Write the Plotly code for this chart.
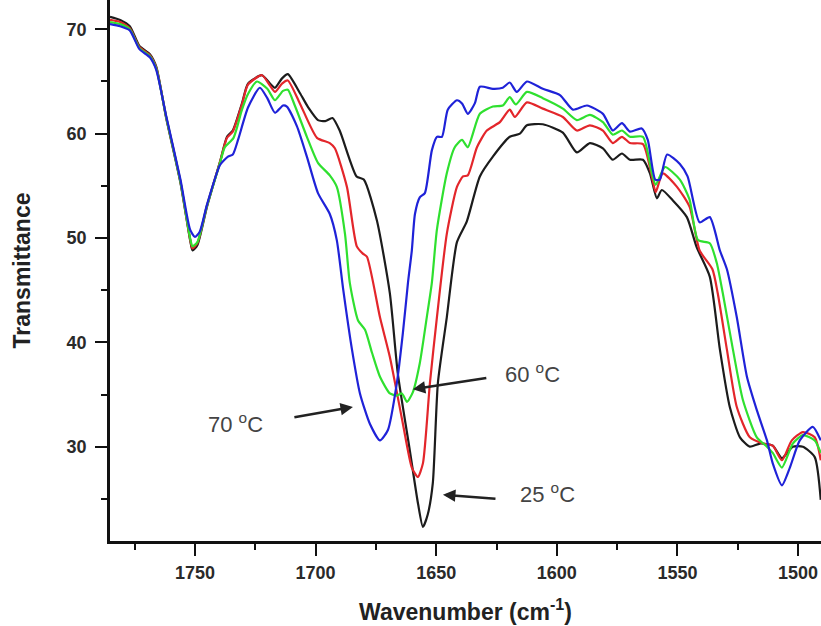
import plotly.graph_objects as go

# ---- data (wavenumber in cm^-1, transmittance) ----
x_25 = [1785.2, 1781, 1777, 1773, 1768.6, 1766, 1762, 1756, 1752, 1751, 1749, 1745, 1739.6, 1736.7, 1734.3,
        1730.5, 1728, 1722.2, 1718.9, 1716.8, 1713.9, 1711.5, 1706.5, 1703, 1699, 1696, 1693, 1690, 1683,
        1680, 1674.6, 1669.2, 1665.9, 1660.9, 1657.5, 1655.5, 1653.5, 1651.4, 1649.3, 1645.6, 1641.4, 1637.3,
        1631.9, 1626.5, 1619.5, 1615.3, 1612.4, 1605.8, 1597.5, 1591.7, 1586.3, 1580.9, 1576.8, 1573.0,
        1569.7, 1564.3, 1561.4, 1558.5, 1556.5, 1551.9, 1546.1, 1542.0, 1536.6, 1532.4, 1528.3, 1524.1,
        1520.0, 1515.8, 1510.5, 1506.7, 1502.2, 1498.0, 1493.1, 1490.6]
y_25 = [71.2, 70.9, 70.3, 68.4, 67.6, 66.4, 61.6, 55.3, 49.8, 48.8, 49.3, 53.0, 57.3, 59.7, 60.3,
        62.9, 64.8, 65.6, 64.8, 64.4, 65.3, 65.7, 63.9, 62.5, 61.3, 61.2, 61.5, 60.3, 55.9,
        55.6, 51.7, 44.7, 37.0, 29.6, 24.5, 22.3, 23.5, 26.5, 36.1, 42.4, 49.6, 51.6,
        55.9, 57.8, 59.7, 60.0, 60.8, 60.9, 60.1, 58.2, 59.1, 58.6, 57.5, 58.1,
        57.5, 57.5, 56.2, 53.8, 54.6, 53.6, 52.0, 49.1, 46.3, 39.3, 33.8, 30.9,
        30.0, 30.3, 30.1, 28.9, 30.0, 30.0, 29.0, 24.9]

x_mid = [1785.2, 1781, 1777, 1773, 1768.6, 1766, 1762, 1756, 1752, 1751, 1749, 1745, 1739.6, 1736.7, 1734.3,
         1730.5, 1728, 1722.2, 1718.9, 1716.8, 1713.9, 1711.5, 1706.5, 1699.4, 1694.1, 1692.0, 1687.0,
         1682.9, 1680.4, 1678.7, 1673.3, 1669.2, 1663.8, 1660.1, 1657.6, 1655.5, 1652.6, 1649.7, 1645.6,
         1641.4, 1638.9, 1636.9, 1633.1, 1629.0, 1623.6, 1619.5, 1617.4, 1612.4, 1605.8, 1597.5, 1591.7,
         1586.3, 1580.9, 1576.8, 1573.0, 1569.7, 1564.3, 1560.6, 1559.0, 1556.1, 1550.2, 1545.0, 1540.8,
         1535.5, 1533.3, 1529.5, 1525.4, 1520.0, 1514.5, 1510.5, 1506.7, 1502.6, 1498.0, 1493.1, 1490.6]
y_mid = [70.9, 70.7, 70.1, 68.3, 67.5, 66.3, 61.7, 55.4, 49.9, 49.0, 49.5, 53.1, 57.3, 59.6, 60.2,
         62.8, 64.7, 65.6, 64.6, 64.0, 64.8, 65.1, 62.9, 59.6, 59.1, 58.6, 54.9,
         49.2, 48.5, 48.2, 42.4, 38.6, 32.2, 28.0, 27.1, 28.4, 36.1, 42.4, 50.4,
         54.9, 55.9, 56.0, 58.7, 60.3, 61.1, 62.3, 61.6, 63.0, 62.4, 61.6, 60.3,
         60.8, 60.3, 59.1, 59.7, 59.1, 59.0, 55.9, 54.4, 56.2, 54.9, 53.0, 48.8,
         47.0, 44.7, 39.3, 33.8, 30.9, 30.3, 30.1, 28.7, 30.6, 31.4, 30.9, 28.7]

x_60 = [1785.2, 1781, 1777, 1773, 1768.6, 1766, 1762, 1756, 1752, 1751, 1749, 1745, 1739.6, 1737.6, 1734,
        1730.5, 1728, 1724.3, 1720, 1716.8, 1713.5, 1711.5, 1708.6, 1703.6, 1699.0, 1694.1, 1691.2, 1687.8,
        1685.8, 1682.4, 1679.5, 1676.6, 1673.3, 1669.2, 1666.3, 1664.2, 1662.1, 1659.7, 1656.8, 1653.9,
        1651.8, 1649.7, 1645.6, 1642.3, 1639.3, 1636.9, 1631.9, 1626.5, 1622.4, 1619.5, 1617.0, 1612.4,
        1605.8, 1597.5, 1591.7, 1586.3, 1580.9, 1576.8, 1573.0, 1569.7, 1564.3, 1560.6, 1559.0, 1555.2,
        1549.0, 1545.0, 1541.5, 1536.6, 1533.7, 1531.2, 1527.0, 1522.9, 1517.1, 1512.9, 1510.5, 1506.7,
        1502.2, 1498.0, 1493.1, 1490.6]
y_60 = [70.7, 70.5, 70.0, 68.2, 67.4, 66.2, 61.7, 55.4, 50.0, 49.2, 49.6, 53.1, 57.2, 58.7, 59.6,
        62.3, 63.8, 65.0, 64.3, 63.2, 64.1, 64.2, 62.7, 59.7, 57.2, 56.0, 54.9, 50.4,
        45.7, 42.1, 41.2, 39.0, 36.7, 35.1, 34.9, 35.1, 34.3, 35.2, 38.0, 42.4,
        45.7, 50.8, 56.2, 58.7, 59.4, 58.7, 61.9, 62.6, 62.7, 63.5, 62.8, 64.0,
        63.4, 62.4, 61.3, 61.8, 61.1, 59.9, 60.3, 59.7, 59.7, 56.2, 55.1, 56.8,
        55.6, 53.7, 49.8, 49.5, 47.6, 44.7, 39.3, 34.5, 30.9, 30.0, 29.4, 28.0,
        30.3, 31.1, 30.6, 29.4]

x_70 = [1785.2, 1781, 1777, 1773, 1768.6, 1766, 1762, 1756, 1752, 1750, 1748, 1745, 1739.6, 1736.3, 1734.3,
        1732, 1728, 1723.1, 1720, 1716.8, 1713.5, 1711.9, 1707.7, 1703.6, 1699.0, 1694.1, 1691.2, 1688.5,
        1684.9, 1681.6, 1677.5, 1673.3, 1670.0, 1666.3, 1663.8, 1661.7, 1660.1, 1658.8, 1656.8, 1654.7,
        1651.8, 1649.7, 1647.6, 1645.2, 1641.4, 1639.3, 1636.9, 1634.0, 1631.9, 1626.5, 1622.4, 1619.5,
        1616.6, 1612.4, 1605.8, 1598.7, 1593.3, 1587.5, 1580.9, 1576.8, 1573.0, 1569.7, 1564.8, 1562.3,
        1559.2, 1557.3, 1554.3, 1549.0, 1545.8, 1540.8, 1536.6, 1532.4, 1529.5, 1525.4, 1521.2, 1517.1,
        1512.9, 1510.5, 1506.7, 1503.4, 1499.3, 1493.9, 1490.6]
y_70 = [70.5, 70.3, 69.9, 68.1, 67.3, 66.1, 61.8, 55.6, 50.8, 50.1, 50.6, 53.2, 57.0, 57.8, 58.0,
        59.5, 62.5, 64.4, 63.4, 62.0, 62.7, 62.6, 60.7, 57.8, 54.3, 52.3, 49.8, 45.0,
        39.3, 35.1, 32.2, 30.6, 31.6, 36.1, 40.9, 45.7, 48.8, 52.3, 53.9, 54.3,
        58.4, 59.7, 59.7, 62.3, 63.2, 62.9, 61.9, 62.9, 64.5, 64.3, 64.4, 64.9,
        64.0, 65.0, 64.3, 63.7, 62.3, 62.7, 61.9, 60.3, 61.0, 60.2, 60.5, 59.4,
        55.6, 55.6, 58.0, 57.1, 55.9, 51.5, 52.0, 48.8, 47.0, 42.4, 36.7, 33.5,
        30.6, 28.4, 26.3, 28.0, 30.6, 31.9, 30.6]

series_names = ["25 °C", "intermediate", "60 °C", "70 °C"]
series_colors = ["#1c1c1c", "#e3262b", "#2fe02f", "#1f22d8"]

x_ticks = [1750, 1700, 1650, 1600, 1550, 1500]
y_ticks = [30, 40, 50, 60, 70]

# label positions (data coordinates) and arrows (tail -> head)
labels = [
    dict(text="70 <sup>o</sup>C", x=1733.0, y=32.3, tail=(1709.4, 32.8), head=(1684.5, 33.8)),
    dict(text="60 <sup>o</sup>C", x=1610.0, y=37.1, tail=(1628.6, 36.6), head=(1659.7, 35.5)),
    dict(text="25 <sup>o</sup>C", x=1603.7, y=25.6, tail=(1624.8, 25.0), head=(1647.2, 25.4)),
]

fig = go.Figure()
for xs, ys, nm, col in zip([x_25, x_mid, x_60, x_70], [y_25, y_mid, y_60, y_70],
                           series_names, series_colors):
    fig.add_trace(go.Scatter(x=xs, y=ys, mode="lines", name=nm,
                             line=dict(color=col, width=2.2, shape="spline", smoothing=0.6)))

for lb in labels:
    fig.add_annotation(x=lb["x"], y=lb["y"], xref="x", yref="y", text=lb["text"], showarrow=False,
                       font=dict(family="Liberation Sans, Arial", size=22, color="#444444"))
    fig.add_annotation(x=lb["head"][0], y=lb["head"][1], ax=lb["tail"][0], ay=lb["tail"][1],
                       xref="x", yref="y", axref="x", ayref="y", text="", showarrow=True,
                       arrowhead=2, arrowsize=1.0, arrowwidth=2.5, arrowcolor="#222222")

axis_font = dict(family="Liberation Sans, Arial", size=18, color="#2a2a2a", weight="bold")
fig.update_xaxes(range=[1785.2, 1490.5], tickvals=x_ticks, ticks="outside", ticklen=12, tickwidth=2,
                 tickcolor="#111", showline=True, linewidth=2.5, linecolor="#111", showgrid=False,
                 zeroline=False, tickfont=axis_font, ticklabelstandoff=2, automargin=False,
                 minor=dict(dtick=25, tick0=1500, ticks="outside", ticklen=6, tickwidth=2, tickcolor="#111"),
                 title=dict(text="<b>Wavenumber (cm<sup>-1</sup>)</b>", standoff=22,
                            font=dict(family="Liberation Sans, Arial", size=23, color="#222")))
fig.update_yaxes(range=[20.96, 72.81], tickvals=y_ticks, ticks="outside", ticklen=12, tickwidth=2,
                 tickcolor="#111", showline=True, linewidth=2.5, linecolor="#111", showgrid=False,
                 zeroline=False, tickfont=axis_font, ticklabelstandoff=5, automargin=False,
                 minor=dict(dtick=5, tick0=0, ticks="outside", ticklen=6, tickwidth=2, tickcolor="#111"),
                 title=dict(text="<b>Transmittance</b>", standoff=30,
                            font=dict(family="Liberation Sans, Arial", size=23, color="#222")))
fig.update_layout(width=821, height=626, margin=dict(l=110, r=0, t=0, b=85),
                  plot_bgcolor="white", paper_bgcolor="white", showlegend=False,
                  font=dict(family="Liberation Sans, Arial"))
fig.update_xaxes(tickformat="d")
fig.write_html("out.html", config={"displayModeBar": False},
               post_script="document.body.style.margin='0px';")
